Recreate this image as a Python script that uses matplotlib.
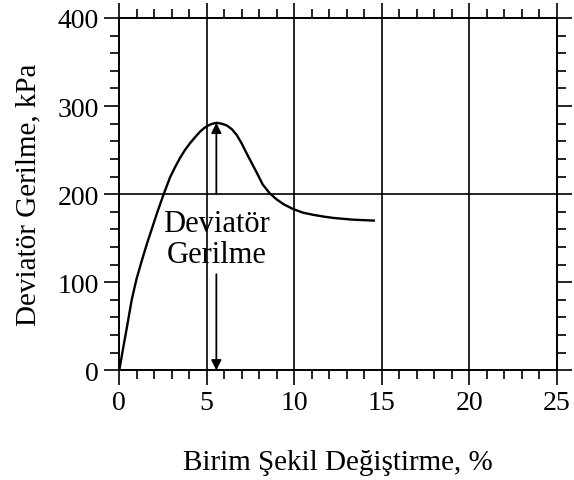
import matplotlib
matplotlib.use("Agg")
import matplotlib.pyplot as plt
from matplotlib.ticker import MultipleLocator

strain = [0, 0.21, 0.42, 0.71, 0.99, 1.28, 1.57, 1.85, 2.2, 2.52, 2.9, 3.2, 3.47, 3.75, 4.05,
          4.35, 4.62, 4.85, 5.09, 5.33, 5.58, 5.85, 6.15, 6.45, 6.72, 7.0, 7.29, 7.58, 7.87,
          8.2, 8.6, 9.0, 9.4, 9.95, 10.5, 11.1, 11.7, 12.25, 12.8, 13.4, 14.0, 14.55]
stress = [0, 24, 47, 80, 104, 124, 143, 160, 181, 199, 219, 231, 241, 250, 258,
          265, 271, 275, 278, 280, 281, 280, 278, 273.5, 267, 257.5, 246, 235, 224,
          211, 201, 194, 188.5, 183, 179, 176.5, 174.5, 173, 172, 171, 170.5, 170]
peak_x = 5.55
peak_y = 281

plt.rcParams['font.family'] = ['Liberation Serif', 'DejaVu Serif']
fig = plt.figure(figsize=(5.74, 4.81), dpi=100)
ax = fig.add_axes([0.2078, 0.2280, 0.7618, 0.7325])

ax.plot(strain, stress, color='black', lw=1.7, zorder=3, solid_joinstyle='round')

ax.set_xlim(0, 25)
ax.set_ylim(0, 400)
ax.xaxis.set_major_locator(MultipleLocator(5))
ax.xaxis.set_minor_locator(MultipleLocator(1))
ax.yaxis.set_major_locator(MultipleLocator(100))
ax.yaxis.set_minor_locator(MultipleLocator(20))

for v in [5, 10, 15, 20]:
    ax.axvline(v, color='black', lw=1.2, zorder=1)
ax.axhline(200, color='black', lw=1.2, zorder=1)

ax.tick_params(which='both', direction='out', top=True, right=True, width=1.2,
               labelsize=20, colors='black')
ax.tick_params(which='major', length=11, pad=3.5)
ax.tick_params(which='minor', length=6.5)
for s in ax.spines.values():
    s.set_linewidth(1.4)

ax.set_xlabel('Birim Şekil Değiştirme, %', fontsize=21, labelpad=24)
ax.set_ylabel('Deviatör Gerilme, kPa', fontsize=21, labelpad=12)

ax.text(peak_x, 149, 'Deviatör\nGerilme', ha='center', va='center', fontsize=22,
        linespacing=1.1, zorder=4)
ap = dict(arrowstyle='-|>', color='black', lw=1.3, mutation_scale=15, shrinkA=0, shrinkB=0)
ax.annotate('', xy=(peak_x, peak_y), xytext=(peak_x, 200), arrowprops=ap)
ax.annotate('', xy=(peak_x, 0), xytext=(peak_x, 109), arrowprops=ap)

fig.savefig('out.png', dpi=100)
